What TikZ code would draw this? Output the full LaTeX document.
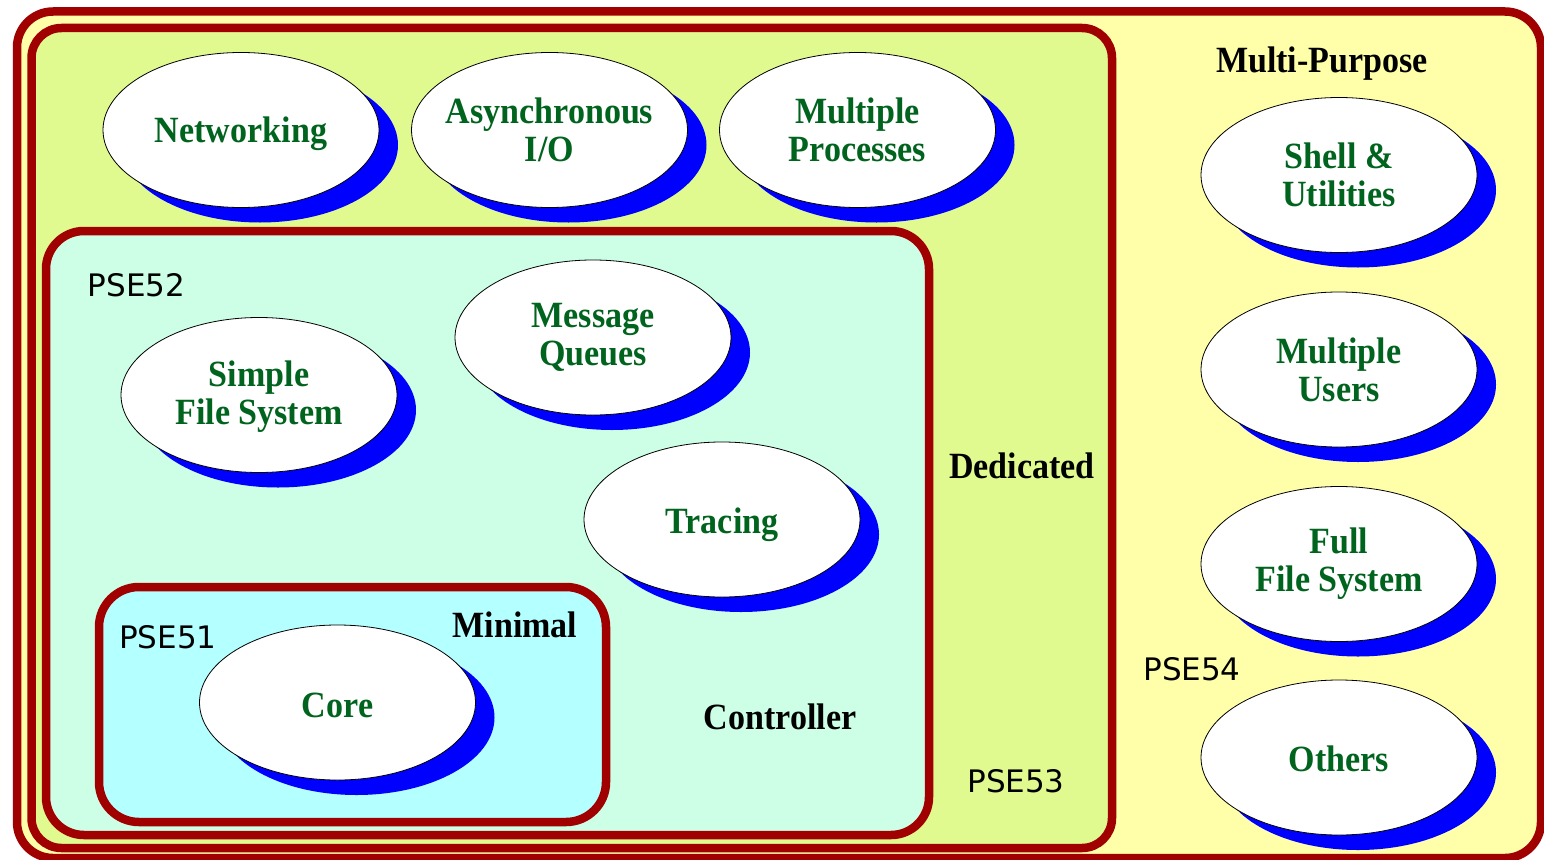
\documentclass[tikz,border=0pt]{standalone}
\usepackage{fontspec}
\setmainfont{Liberation Serif}
\newfontfamily\lblfont[FakeStretch=0.92]{Liberation Serif}
\newfontfamily\psefont{DejaVu Sans}
\usetikzlibrary{shapes.geometric,shadows}
\definecolor{brd}{HTML}{A00000}
\definecolor{outerfill}{HTML}{FFFFAA}
\definecolor{dedfill}{HTML}{E0FA90}
\definecolor{ctlfill}{HTML}{CCFFE6}
\definecolor{minfill}{HTML}{B4FFFF}
\definecolor{shadowblue}{HTML}{0000FF}
\definecolor{txtgreen}{HTML}{00641E}
\begin{document}
\begin{tikzpicture}[x=1pt,y=-1pt,
  bub/.style={ellipse, draw=black, line width=0.8pt, fill=white,
    minimum width=276pt, minimum height=155pt, inner sep=0pt,
    general shadow={fill=shadowblue, shadow xshift=19pt, shadow yshift=-15pt}},
  btxt/.style={text=txtgreen, font=\lblfont\bfseries\fontsize{37}{38}\selectfont,
    align=center, inner sep=0pt},
  blk/.style={text=black, font=\lblfont\bfseries\fontsize{37}{38}\selectfont,
    anchor=base, inner sep=0pt},
  pse/.style={text=black, font=\psefont\fontsize{31}{36}\selectfont, inner sep=0pt},
  boxline/.style={draw=brd, line width=8.5pt}
]
\useasboundingbox (0,0) rectangle (1544,859);
\clip (0,0) rectangle (1544,859);
\fill[white] (0,0) rectangle (1544,859);

% containers
\draw[boxline, fill=outerfill, rounded corners=36pt] (17,11.5) rectangle (1541,858);
\draw[boxline, fill=dedfill, rounded corners=30pt] (31.5,28) rectangle (1112,848);
\draw[boxline, fill=ctlfill, rounded corners=38pt] (46,231) rectangle (929,835);
\draw[boxline, fill=minfill, rounded corners=40pt] (99,587) rectangle (606,822);

% ellipses
\node[bub] (net)  at (241,130) {};
\node[bub] (aio)  at (549.5,130) {};
\node[bub] (mproc) at (857.5,130) {};
\node[bub] (shell) at (1339,175) {};
\node[bub] (musers) at (1339,369.5) {};
\node[bub] (ffs) at (1339,564) {};
\node[bub] (oth) at (1339,757.5) {};
\node[bub] (mq) at (593,337.5) {};
\node[bub] (sfs) at (259,395) {};
\node[bub] (trc) at (722,519.5) {};
\node[bub] (core) at (337.5,702.5) {};

% ellipse labels
\node[btxt, yshift=-4pt] (tnet) at (net) {Networking};
\node[btxt] (taio) at (aio) {Asynchronous\\I/O};
\node[btxt] (tmproc) at (mproc) {Multiple\\Processes};
\node[btxt] (tshell) at (shell) {Shell \&\\Utilities};
\node[btxt] (tmusers) at (musers) {Multiple\\Users};
\node[btxt] (tffs) at (ffs) {Full\\File System};
\node[btxt, yshift=-1pt] (toth) at (oth) {Others};
\node[btxt] (tmq) at (mq) {Message\\Queues};
\node[btxt, yshift=-2pt] (tsfs) at (sfs) {Simple\\File System};
\node[btxt, yshift=-5pt] (ttrc) at (trc) {Tracing};
\node[btxt, yshift=-3pt] (tcore) at (core) {Core};

% profile names
\node[blk] (lmp)  at (1322,73) {Multi-Purpose};
\node[blk] (lded) at (1022,478) {Dedicated};
\node[blk] (lctl) at (780,729) {Controller};
\node[blk] (lmin) at (515,637) {Minimal};

% PSE labels
\node[pse] (p52) at (136.5,285.5) {PSE52};
\node[pse] (p51) at (168,637) {PSE51};
\node[pse] (p54) at (1192,669) {PSE54};
\node[pse] (p53) at (1016,781.5) {PSE53};
\end{tikzpicture}
\end{document}
